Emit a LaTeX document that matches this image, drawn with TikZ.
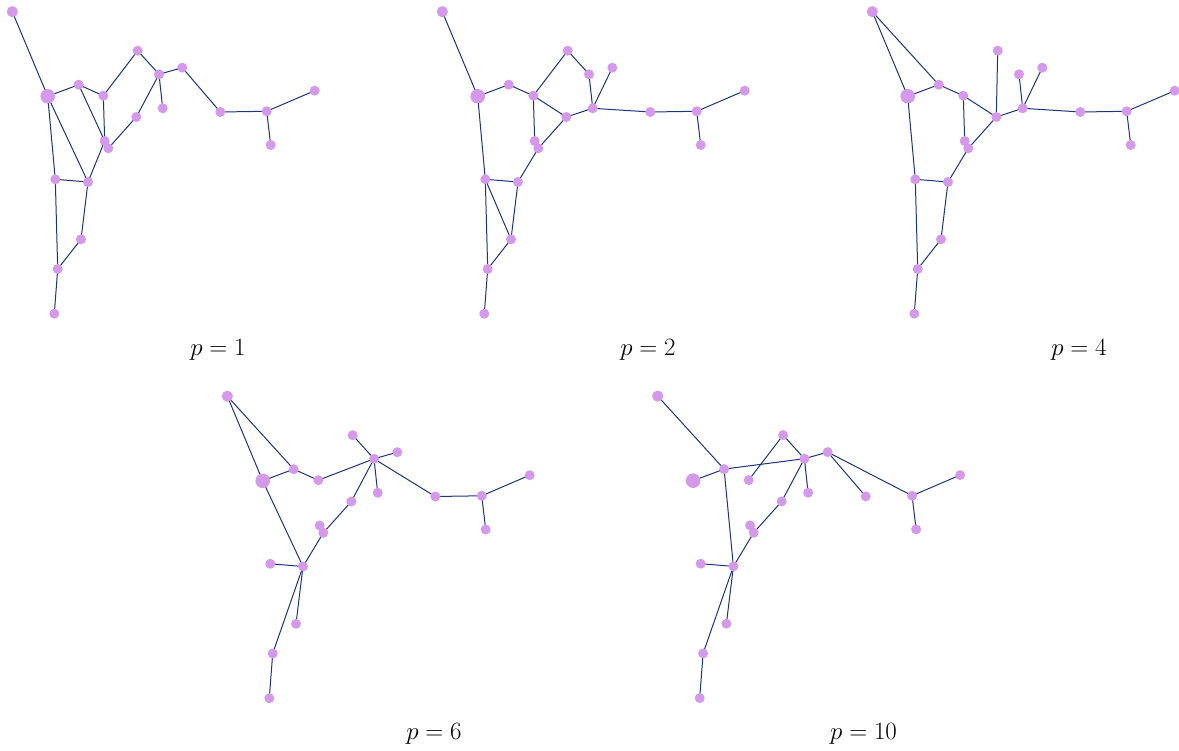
\documentclass[tikz,border=0pt]{standalone}
\usetikzlibrary{backgrounds}
\definecolor{nodefill}{RGB}{213,153,236}
\definecolor{edgecol}{RGB}{28,52,122}
\tikzset{
  vert/.style={circle,fill=nodefill,draw=none,inner sep=0pt,minimum size=10pt},
  vertA/.style={vert,minimum size=11.2pt},
  vertB/.style={vert,minimum size=14.6pt},
  edge/.style={draw=edgecol,line width=1pt},
  plabel/.style={anchor=base,font=\fontsize{26}{30}\selectfont,inner sep=0pt}
}
\newcommand{\graphpanel}[4]{%
  \begin{scope}[shift={(#2,#3)}]
    \node[vertA] (#1A) at (12.3,11.7) {};
    \node[vertB] (#1B) at (47.7,96.3) {};
    \node[vert] (#1C) at (78.7,84.7) {};
    \node[vert] (#1D) at (103.3,95.7) {};
    \node[vert] (#1E) at (137.7,50.7) {};
    \node[vert] (#1F) at (159,74.3) {};
    \node[vert] (#1G) at (182.3,67.7) {};
    \node[vert] (#1H) at (162.7,108.3) {};
    \node[vert] (#1I) at (136.3,117) {};
    \node[vert] (#1J) at (104.7,141) {};
    \node[vert] (#1K) at (108.3,148.3) {};
    \node[vert] (#1L) at (55.3,179.3) {};
    \node[vert] (#1M) at (88,182) {};
    \node[vert] (#1N) at (81,239.3) {};
    \node[vert] (#1O) at (57.7,269) {};
    \node[vert] (#1P) at (54.3,313.7) {};
    \node[vert] (#1Q) at (220.3,112) {};
    \node[vert] (#1R) at (266.7,111.3) {};
    \node[vert] (#1S) at (314.7,90.7) {};
    \node[vert] (#1T) at (270.7,145) {};
    \begin{scope}[on background layer]
      \foreach \u/\v in {#4} {\draw[edge] (#1\u.center) -- (#1\v.center);}
    \end{scope}
  \end{scope}}
\begin{document}
\begin{tikzpicture}[x=1pt,y=-1pt]
\useasboundingbox (0,0) rectangle (1179,751);
\graphpanel{a}{0}{0}{A/B,B/C,C/D,B/L,B/M,C/J,D/E,D/J,E/F,F/G,F/H,F/I,I/K,J/K,J/M,G/Q,Q/R,R/S,R/T,L/M,L/O,M/N,N/O,O/P}
\graphpanel{b}{430}{0}{A/B,B/C,C/D,D/E,E/F,F/H,G/H,D/I,I/H,D/J,I/K,J/K,K/M,L/M,B/L,L/N,L/O,M/N,N/O,O/P,H/Q,Q/R,R/S,R/T}
\graphpanel{c}{860}{0}{A/B,A/C,B/C,C/D,D/I,E/I,F/H,G/H,I/H,D/J,I/K,J/K,K/M,L/M,B/L,M/N,N/O,L/O,O/P,H/Q,Q/R,R/S,R/T}
\graphpanel{d}{215}{384.5}{A/B,A/C,B/C,C/D,D/F,E/F,F/G,F/H,F/I,I/K,J/K,K/M,B/M,L/M,M/N,M/O,O/P,F/Q,Q/R,R/S,R/T}
\graphpanel{e}{645.4}{384.4}{A/C,B/C,C/F,D/E,E/F,F/G,F/H,F/I,I/K,J/K,K/M,C/M,L/M,M/N,M/O,O/P,G/Q,G/R,R/S,R/T}
\node[plabel] (l1) at (218,355.5) {$p=1$};
\node[plabel] (l2) at (648,355.5) {$p=2$};
\node[plabel] (l3) at (1079,355.5) {$p=4$};
\node[plabel] (l4) at (434,739) {$p=6$};
\node[plabel] (l5) at (863.5,739) {$p=10$};
\end{tikzpicture}
\end{document}
